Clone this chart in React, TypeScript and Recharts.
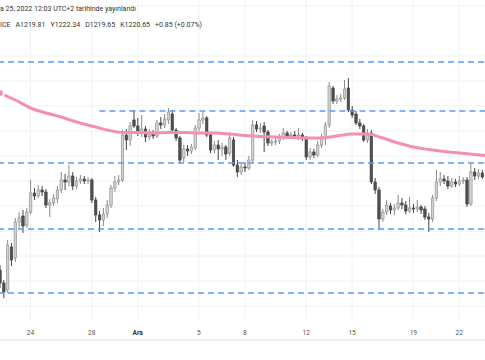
import { ComposedChart, Bar, Line, XAxis, YAxis, CartesianGrid, ReferenceLine } from "recharts";

// 6h candles, Nov 22 00:00 -> Dec 23 18:00
const opens = [
    1168, 1161.5, 1158, 1179.5, 1174, 1192, 1195, 1190.5,
    1197, 1206.5, 1205, 1208, 1207, 1200.5, 1201.5, 1203.5,
    1208, 1213, 1212, 1215, 1210, 1212.5, 1213.5, 1212.5,
    1213, 1203, 1195.5, 1193, 1196, 1200.5, 1209, 1212,
    1213, 1235.5, 1233, 1243, 1240, 1236.5, 1238.5, 1234.5,
    1236.5, 1235, 1241.5, 1240.5, 1243, 1246, 1238, 1234,
    1224, 1228.5, 1227.5, 1229, 1239, 1243, 1244, 1235.5,
    1228, 1230.5, 1228.5, 1229.5, 1226.5, 1233, 1220.5, 1217,
    1219.5, 1219, 1223, 1240.5, 1238.5, 1240, 1237, 1231.5,
    1232, 1232.5, 1234.5, 1236.5, 1235, 1235.5, 1235, 1235.5,
    1234, 1224.5, 1227, 1225.5, 1230.5, 1234, 1240.5, 1259,
    1252.5, 1253.5, 1254, 1259, 1248, 1246, 1241.5, 1240,
    1233, 1236.5, 1212, 1208, 1193.5, 1197, 1200, 1198,
    1199, 1201.5, 1200.5, 1197.5, 1199, 1198.5, 1199.5, 1198.5,
    1194.5, 1193.5, 1204, 1212, 1213.5, 1212.5, 1210, 1212,
    1211, 1212.5, 1213, 1201, 1217, 1215, 1216.5, 1214.5,
];
const highs = [
    1170.5, 1163, 1183, 1181.5, 1194, 1197, 1198, 1199,
    1213, 1209, 1210.5, 1210, 1208.5, 1203.5, 1206, 1210,
    1217, 1216, 1220.5, 1217, 1214.5, 1215.5, 1215, 1214.5,
    1214, 1204.5, 1197.5, 1199, 1203, 1210.5, 1215, 1215.5,
    1238, 1238.5, 1242, 1248, 1244, 1245.5, 1240, 1238.5,
    1238, 1243, 1244.5, 1246, 1249, 1248, 1239, 1235,
    1230.5, 1230.5, 1231, 1240.5, 1246.5, 1247, 1245, 1236.5,
    1232.5, 1233, 1231.5, 1230.5, 1237, 1234.5, 1223, 1221.5,
    1222, 1225, 1243, 1242.5, 1241.5, 1242, 1238, 1233.5,
    1234.5, 1236, 1239, 1237.5, 1237, 1237.5, 1239, 1236.5,
    1235, 1229, 1228.5, 1232.5, 1236, 1242, 1262, 1260,
    1255.5, 1256, 1263, 1264, 1250, 1247.5, 1243.5, 1241,
    1238.5, 1238, 1214, 1209.5, 1198.5, 1203, 1201.5, 1201,
    1205.5, 1204, 1202.5, 1204.5, 1201, 1203, 1200.5, 1200,
    1196.5, 1205.5, 1218, 1217, 1215.5, 1215, 1214, 1213.5,
    1215, 1214.5, 1214.5, 1221.5, 1219, 1218.5, 1218, 1216.5,
];
const lows = [
    1159, 1154, 1156.5, 1170, 1172, 1189, 1186.5, 1189,
    1196, 1203, 1204, 1205, 1199, 1194.5, 1200, 1201.5,
    1206.5, 1208, 1210, 1208, 1208.5, 1211, 1211, 1211,
    1201.5, 1192, 1187, 1190, 1194, 1199, 1207, 1210.5,
    1212, 1228, 1230, 1239, 1235, 1234.5, 1232, 1233,
    1233.5, 1234, 1238.5, 1239, 1241, 1236.5, 1232.5, 1221.5,
    1222, 1225, 1226, 1228, 1237.5, 1241, 1234.5, 1226.5,
    1226.5, 1223, 1225, 1223, 1225, 1219.5, 1214.5, 1215.5,
    1217, 1218, 1221.5, 1237, 1236.5, 1227, 1230, 1230,
    1230.5, 1231, 1233, 1233.5, 1233.5, 1233.5, 1233, 1232.5,
    1223, 1223, 1224, 1224.5, 1229, 1230.5, 1239, 1251,
    1251, 1252, 1253, 1247, 1244, 1240.5, 1238.5, 1232,
    1231.5, 1211, 1206, 1188, 1192, 1195.5, 1196, 1195.5,
    1198, 1198.5, 1196, 1196.5, 1196.5, 1197, 1196, 1193,
    1187, 1192, 1202.5, 1210, 1211, 1208.5, 1209, 1209.5,
    1210, 1211, 1199.5, 1200, 1213, 1213.5, 1213.5, 1213.5,
];
const closes = [
    1161.5, 1157, 1180.5, 1173, 1192, 1194, 1190, 1197,
    1206.5, 1205, 1208, 1207, 1200.5, 1201.5, 1204, 1208,
    1213, 1212, 1215, 1210, 1212.5, 1213.5, 1212.5, 1213,
    1203, 1195.5, 1193, 1196, 1200.5, 1209, 1212, 1213,
    1235.5, 1233, 1240, 1240, 1236.5, 1238.5, 1234.5, 1236.5,
    1235, 1241.5, 1240.5, 1243.5, 1247, 1238, 1234, 1223,
    1228.5, 1227.5, 1229.5, 1239, 1243, 1244, 1235.5, 1228,
    1230.5, 1228.5, 1229.5, 1226, 1234, 1220.5, 1217, 1219.5,
    1219, 1223, 1240.5, 1238.5, 1239, 1237, 1231.5, 1232,
    1232.5, 1234.5, 1236.5, 1235, 1235.5, 1235, 1235.5, 1234.5,
    1224.5, 1227, 1225.5, 1230.5, 1234.5, 1240.5, 1260, 1252.5,
    1253.5, 1254, 1258.5, 1248, 1245.5, 1241.5, 1240, 1233,
    1236.5, 1212, 1208, 1193.5, 1197, 1200.5, 1198, 1199,
    1201.5, 1200.5, 1197.5, 1199, 1198.5, 1199.5, 1198, 1194.5,
    1193.5, 1204, 1212, 1213.5, 1212.5, 1210, 1212, 1211,
    1212.5, 1213, 1201, 1217, 1215, 1216.5, 1214.5, 1215,
];

// moving average, read once a day (00:00 bar) plus the last bar
const maValues = [
    1256.5, 1253, 1249, 1246.5, 1244.5, 1242, 1240, 1238,
    1236.75, 1236.75, 1236.5, 1236.75, 1236.75, 1236.5, 1236.5, 1236,
    1235.25, 1234.75, 1234.5, 1234.25, 1234, 1234, 1235, 1236,
    1236, 1234, 1231.5, 1229.5, 1228.25, 1227.25, 1226.5, 1225.75,
    1225.25,
];

const levels = [1272, 1221.5, 1188.5, 1156.5];
const midLevel = 1247.5;
const gridPrices = [1150, 1162.5, 1175, 1187.5, 1200, 1212.5, 1225, 1237.5, 1250, 1262.5, 1275, 1287.5, 1300];

const tickDates = ["11-24", "11-28", "12-1", "12-5", "12-8", "12-12", "12-15", "12-19", "12-22"];
const tickLabels = ["24", "28", "Ara", "5", "8", "12", "15", "19", "22"];

const start = Date.UTC(2022, 10, 22);
const times = opens.map((_, i) => {
    const d = new Date(start + i * 6 * 3600 * 1000);
    return `${d.getUTCMonth() + 1}-${d.getUTCDate()}-${d.getUTCHours()}`;
});
const tickKeys = tickDates.map(d => d + "-0");

const data = opens.map((open, i) => {
    const maIdx = i === opens.length - 1 ? maValues.length - 1 : (i % 4 === 0 ? i / 4 : -1);
    return {
        t: times[i],
        open,
        high: highs[i],
        low: lows[i],
        close: closes[i],
        range: [lows[i], highs[i]],
        ma: maIdx >= 0 ? maValues[maIdx] : null,
    };
});

function Candle(props: any) {
    const { x, y, width, height, payload } = props;
    if (!payload) return null;
    const { open, close, high, low } = payload;
    const top = Math.min(y, y + height);
    const h = Math.abs(height);
    const k = high === low ? 0 : h / (high - low);
    const py = (v: number) => top + (high - v) * k;
    const cx = x + width / 2;
    const up = close >= open;
    const bodyTop = py(Math.max(open, close));
    const bodyH = Math.max(1, Math.abs(py(open) - py(close)));
    const bw = width * 0.62;
    return (
        <g>
            <line x1={cx} x2={cx} y1={top} y2={top + h} stroke={up ? "#8a8a8a" : "#454545"} strokeWidth={1} />
            <rect x={cx - bw / 2} y={bodyTop} width={bw} height={bodyH}
                fill={up ? "#d2d2d2" : "#4f4f4f"} stroke={up ? "#8a8a8a" : "#3e3e3e"} strokeWidth={0.6} />
        </g>
    );
}

function AxisTick(props: any) {
    const { x, y, payload } = props;
    const idx = tickKeys.indexOf(payload.value);
    const label = tickLabels[idx] ?? "";
    return (
        <text x={x} y={y + 14.5} textAnchor="middle" fontSize={6.6} fontFamily="Roboto"
            fontWeight={label === "Ara" ? 700 : 400} fill={label === "Ara" ? "#333" : "#555"}>
            {label}
        </text>
    );
}

export default function App() {
    return (
        <div style={{ position: "absolute", left: 0, top: 0, width: 485, height: 360, overflow: "hidden", background: "#fff" }}>
            <div style={{ position: "absolute", left: -2.5, top: 0 }}>
                <ComposedChart width={490} height={340} data={data} barCategoryGap={0} margin={{ top: 0, right: 0, bottom: 0, left: 0 }}>
                    <CartesianGrid stroke="#f0f2f6" horizontalValues={gridPrices} />
                    <XAxis dataKey="t" type="category" ticks={tickKeys} interval={0} height={20}
                        tickSize={0} tickMargin={0} tickLine={false} axisLine={false} tick={<AxisTick />} />
                    <YAxis hide type="number" domain={[1143, 1303]} allowDataOverflow />
                    <Bar dataKey="range" shape={<Candle />} isAnimationActive={false} />
                    <Line type="monotone" dataKey="ma" connectNulls dot={false} stroke="#f48fb1"
                        strokeWidth={3} isAnimationActive={false} />
                    {levels.map(v => (
                        <ReferenceLine key={v} y={v} stroke="#5b9bf5" strokeWidth={1.3} strokeDasharray="6 4" />
                    ))}
                    <ReferenceLine segment={[{ x: times[26], y: midLevel }, { x: times[times.length - 1], y: midLevel }]}
                        stroke="#5b9bf5" strokeWidth={1.3} strokeDasharray="6 4" />
                </ComposedChart>
            </div>
            <div style={{ position: "absolute", left: 0, top: 339, width: 485, height: 2, background: "#eceef2" }} />
            <div style={{ position: "absolute", left: 0, top: 4.5, fontFamily: "Roboto", fontSize: 7, lineHeight: "9px", color: "#333", whiteSpace: "pre" }}>
                a 25, 2022 12:03 UTC+2 tarihinde yayınlandı
            </div>
            <div style={{ position: "absolute", left: 0, top: 20.5, fontFamily: "Roboto", fontSize: 7, lineHeight: "9px", color: "#333", whiteSpace: "pre", display: "flex", gap: 5 }}>
                <span>ICE</span>
                <span>A1219.81</span>
                <span>Y1222.34</span>
                <span>D1219.65</span>
                <span>K1220.65</span>
                <span>+0.85 (+0.07%)</span>
            </div>
        </div>
    );
}
